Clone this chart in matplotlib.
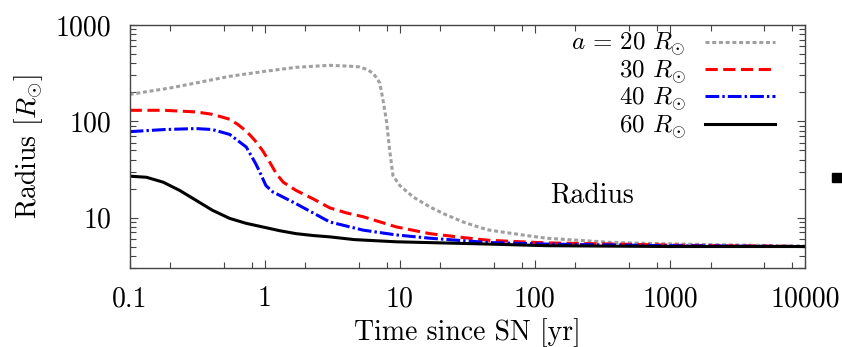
import matplotlib
matplotlib.use("Agg")
import matplotlib.pyplot as plt
from matplotlib.ticker import FixedLocator, FixedFormatter, LogLocator, NullFormatter
from matplotlib.patches import Rectangle

plt.rcParams["font.family"] = "serif"
plt.rcParams["font.serif"] = ["cmr10", "DejaVu Serif"]
plt.rcParams["mathtext.fontset"] = "cm"
plt.rcParams["axes.formatter.use_mathtext"] = True

# radius evolution after the SN (time in yr, radius in R_sun)
t_20 = [0.1, 0.2, 0.31, 0.55, 1.0, 1.7, 3.0, 3.6, 4.3, 5.06, 5.7, 6.3, 6.7, 7.1, 7.5,
        8.0, 8.4, 8.9, 10, 12.6, 16.7, 21, 29.4, 39, 46, 87, 122, 380, 1185, 10000]
r_20 = [190, 222, 250, 293, 330, 363, 381, 377, 373, 366, 345, 318, 285, 251, 169,
        97, 51, 27.3, 21.5, 16.3, 12.9, 11.0, 9.0, 7.9, 7.4, 6.5, 6.1, 5.5, 5.3, 5.05]

t_30 = [0.1, 0.18, 0.31, 0.41, 0.55, 0.63, 0.73, 0.84, 0.97, 1.09, 1.22, 1.37, 1.71,
        2.29, 3.03, 4.0, 5.35, 9.4, 16.7, 29.4, 46, 122, 380, 1185, 10000]
r_30 = [130, 130, 125, 118, 105, 93, 79, 64, 49, 37.5, 28.5, 23.3, 19.1,
        15.6, 12.6, 11.2, 10.2, 8.0, 6.8, 6.2, 5.8, 5.45, 5.3, 5.15, 5.0]

t_40 = [0.1, 0.18, 0.31, 0.41, 0.55, 0.73, 0.86, 0.92, 1.02, 1.15, 1.29, 1.71, 3.03,
        5.35, 9.4, 16.7, 29.4, 46, 122, 1000, 10000]
r_40 = [78, 82, 84, 82, 73, 54, 36, 29.6, 21.5, 18.4, 17.0, 13.9, 9.0,
        7.4, 6.6, 6.1, 5.75, 5.5, 5.3, 5.1, 5.0]

t_60 = [0.1, 0.133, 0.177, 0.235, 0.31, 0.41, 0.55, 0.73, 1.0, 1.29, 1.71, 2.29, 3.03,
        4.6, 9.4, 46, 122, 1000, 10000]
r_60 = [26.9, 26.2, 23.3, 19.1, 15.1, 11.9, 9.8, 8.7, 7.9, 7.3, 6.8, 6.5, 6.3,
        5.9, 5.6, 5.3, 5.1, 5.0, 5.0]

labels = [r"$a\,=\,20\ R_{\odot}$", r"30 $R_{\odot}$", r"40 $R_{\odot}$", r"60 $R_{\odot}$"]
x_ticks = [0.1, 1, 10, 100, 1000, 10000]
x_ticklabels = ["0.1", "1", "10", "100", "1000", "10000"]
y_ticks = [10, 100, 1000]
y_ticklabels = ["10", "100", "1000"]


def main():
    fig = plt.figure(figsize=(8.42, 3.47), dpi=100)
    ax = fig.add_axes([0.154, 0.228, 0.802, 0.700])

    lw = 2.2
    ax.plot(t_20, r_20, color="#a0a0a0", lw=lw, dashes=(1.3, 0.9), label=labels[0])
    ax.plot(t_30, r_30, color="#ff0000", lw=lw, dashes=(4.0, 1.8), label=labels[1])
    ax.plot(t_40, r_40, color="#0000ff", lw=lw, dashes=(4.5, 1.0, 0.8, 1.0), label=labels[2])
    ax.plot(t_60, r_60, color="black", lw=lw, label=labels[3])

    ax.set_xscale("log")
    ax.set_yscale("log")
    ax.set_xlim(0.1, 10000)
    ax.set_ylim(3, 1000)

    ax.xaxis.set_major_locator(FixedLocator(x_ticks))
    ax.xaxis.set_major_formatter(FixedFormatter(x_ticklabels))
    ax.xaxis.set_minor_locator(LogLocator(base=10, subs=(2, 5, 8)))
    ax.xaxis.set_minor_formatter(NullFormatter())
    ax.yaxis.set_major_locator(FixedLocator(y_ticks))
    ax.yaxis.set_major_formatter(FixedFormatter(y_ticklabels))
    ax.yaxis.set_minor_locator(LogLocator(base=10, subs=range(2, 10)))
    ax.yaxis.set_minor_formatter(NullFormatter())

    ax.tick_params(which="both", direction="in", top=True, right=True, labelsize=20,
                   color="#444444")
    ax.tick_params(which="major", length=6, width=0.8, pad=13)
    ax.tick_params(which="minor", length=4, width=0.8)
    for sp in ax.spines.values():
        sp.set_linewidth(1.0)
        sp.set_color("#444444")

    ax.set_xlabel("Time since SN [yr]", fontsize=20, labelpad=4)
    ax.set_ylabel(r"Radius [$R_{\odot}$]", fontsize=20, labelpad=8)

    ax.text(265, 17.0, "Radius", fontsize=20, ha="center", va="center")

    ax.legend(loc="upper right", bbox_to_anchor=(0.96, 0.985), frameon=False,
              markerfirst=False, fontsize=18, handlelength=2.8, handletextpad=0.78,
              labelspacing=0.0, borderaxespad=0.0, borderpad=0.1)

    # edge of the neighbouring panel's marker
    fig.patches.append(Rectangle((832 / 842, 1 - 182 / 347), 10 / 842, 9 / 347,
                                 transform=fig.transFigure, color="black"))

    fig.savefig("out.png", dpi=100)
    plt.close(fig)


if __name__ == "__main__":
    main()
